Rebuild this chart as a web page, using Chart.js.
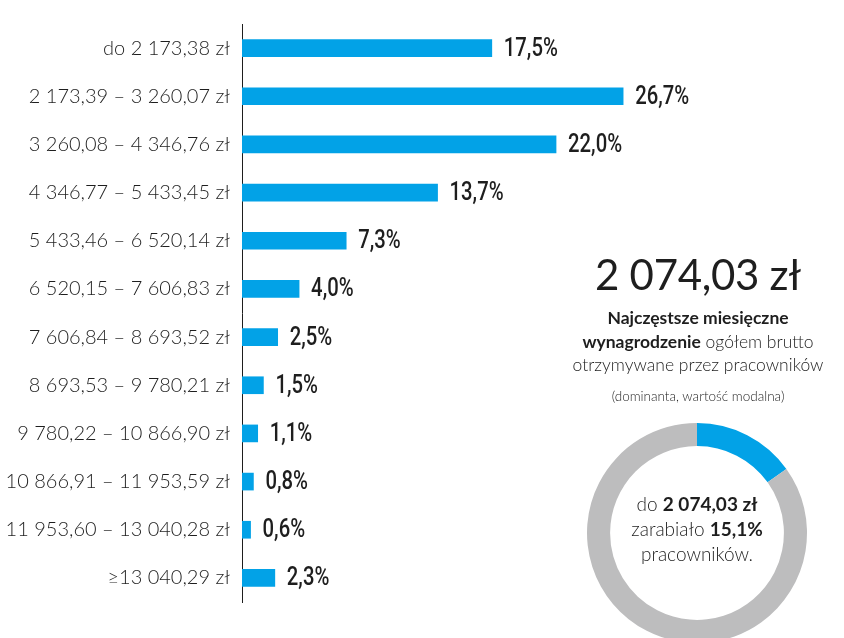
<!DOCTYPE html>
<html>
<head>
<meta charset="utf-8">
<script src="https://cdn.jsdelivr.net/npm/chart.js@4.4.1/dist/chart.umd.min.js"></script>
<style>
  html, body { margin: 0; padding: 0; background: #fff; overflow: hidden; }
  body { width: 844px; height: 638px; position: relative; font-family: Lato, "Open Sans", sans-serif; color: #1e1e1e; }
  #barWrap { position: absolute; left: 0; top: 0; width: 844px; height: 638px; }
  #donutWrap { position: absolute; left: 577px; top: 413px; width: 240px; height: 240px; }
  .txt { position: absolute; left: 558px; width: 280px; text-align: center; white-space: nowrap; }
  #big { top: 249px; font-size: 42px; font-weight: 400; letter-spacing: -0.3px; }
  #desc { top: 306px; font-size: 17.5px; line-height: 23.5px; font-weight: 300; }
  #desc b { font-weight: 700; }
  #note { top: 388px; font-size: 13.5px; font-weight: 300; }
  #inner { position: absolute; left: 597px; width: 200px; top: 491px; text-align: center; font-size: 19px; line-height: 25px; font-weight: 300; white-space: nowrap; }
  #inner b { font-weight: 700; }
</style>
</head>
<body>
<div id="barWrap"><canvas id="bar"></canvas></div>
<div id="donutWrap"><canvas id="donut"></canvas></div>
<div class="txt" id="big">2 074,03 zł</div>
<div class="txt" id="desc"><b>Najczęstsze miesięczne</b><br><b>wynagrodzenie</b> ogółem brutto<br>otrzymywane przez pracowników</div>
<div class="txt" id="note">(dominanta, wartość modalna)</div>
<div id="inner">do <b>2 074,03 zł</b><br>zarabiało <b>15,1%</b><br>pracowników.</div>
<script>
const categories = [
  "do 2 173,38 zł",
  "2 173,39 – 3 260,07 zł",
  "3 260,08 – 4 346,76 zł",
  "4 346,77 – 5 433,45 zł",
  "5 433,46 – 6 520,14 zł",
  "6 520,15 – 7 606,83 zł",
  "7 606,84 – 8 693,52 zł",
  "8 693,53 – 9 780,21 zł",
  "9 780,22 – 10 866,90 zł",
  "10 866,91 – 11 953,59 zł",
  "11 953,60 – 13 040,28 zł",
  "≥13 040,29 zł"
];
const shares = [17.5, 26.7, 22.0, 13.7, 7.3, 4.0, 2.5, 1.5, 1.1, 0.8, 0.6, 2.3];
const donutLabels = ["do 2 074,03 zł", "powyżej 2 074,03 zł"];
const donutValues = [15.1, 84.9];

const BLUE = "#02a2e7";
const GREY = "#bdbdbe";

const valueLabels = {
  id: "valueLabels",
  afterDatasetsDraw(chart) {
    const ctx = chart.ctx;
    const meta = chart.getDatasetMeta(0);
    ctx.save();
    ctx.font = "500 26px Roboto, sans-serif";
    ctx.fillStyle = "#1e1e1e";
    ctx.textAlign = "left";
    ctx.textBaseline = "middle";
    meta.data.forEach((bar, i) => {
      const txt = shares[i].toFixed(1).replace(".", ",") + "%";
      const x0 = bar.x + 12;
      ctx.save();
      ctx.translate(x0, bar.y + 1);
      ctx.scale(0.78, 1);
      ctx.fillText(txt, 0, 0);
      ctx.restore();
    });
    ctx.restore();
  }
};

new Chart(document.getElementById("bar"), {
  type: "bar",
  data: {
    labels: categories,
    datasets: [{ data: shares, backgroundColor: BLUE, barThickness: 17, borderWidth: 0 }]
  },
  options: {
    indexAxis: "y",
    responsive: true,
    maintainAspectRatio: false,
    animation: false,
    layout: { padding: { top: 7, bottom: 36, right: 31, left: 0 } },
    plugins: { legend: { display: false }, tooltip: { enabled: false } },
    scales: {
      x: { display: false, min: 0, max: 40 },
      y: {
        afterFit(s) { s.width = 242; },
        grid: { display: false, drawTicks: false },
        border: { display: true, color: "#1e1e1e", width: 1 },
        ticks: {
          padding: 12,
          color: "#1e1e1e",
          font: { family: "Lato, 'Open Sans', sans-serif", size: 20, weight: 300 }
        }
      }
    }
  },
  plugins: [valueLabels]
});

new Chart(document.getElementById("donut"), {
  type: "doughnut",
  data: {
    labels: donutLabels,
    datasets: [{ data: donutValues, backgroundColor: [BLUE, GREY], borderWidth: 0 }]
  },
  options: {
    responsive: true,
    maintainAspectRatio: false,
    animation: false,
    cutout: "79%",
    layout: { padding: 10 },
    plugins: { legend: { display: false }, tooltip: { enabled: false } }
  }
});
</script>
</body>
</html>
